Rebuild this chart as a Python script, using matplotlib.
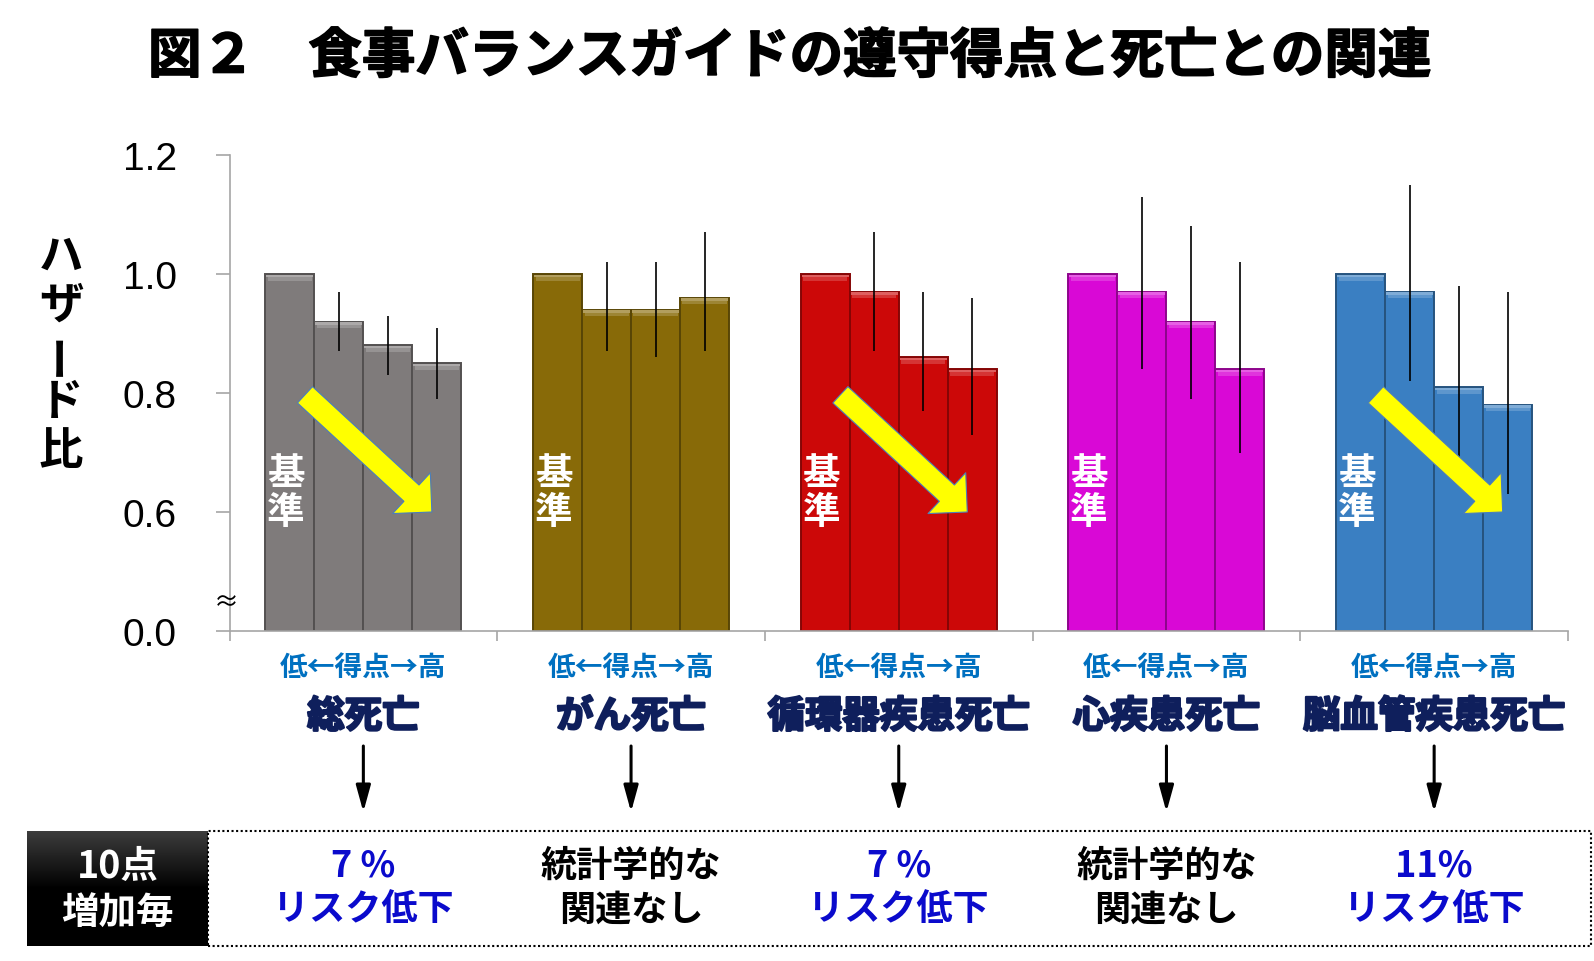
import numpy as np
import matplotlib.pyplot as plt
import matplotlib.patheffects as pe
from matplotlib import transforms
from matplotlib.patches import Rectangle
from matplotlib.colors import to_rgb, LinearSegmentedColormap

plt.rcParams['font.family'] = ['Noto Sans CJK JP', 'DejaVu Sans']

# --- データ ---
title = '図２　食事バランスガイドの遵守得点と死亡との関連'
categories = ['総死亡', 'がん死亡', '循環器疾患死亡', '心疾患死亡', '脳血管疾患死亡']
hazard_ratio = [
    [1.00, 0.92, 0.88, 0.85],
    [1.00, 0.94, 0.94, 0.96],
    [1.00, 0.97, 0.86, 0.84],
    [1.00, 0.97, 0.92, 0.84],
    [1.00, 0.97, 0.81, 0.78],
]
ci_low = [
    [np.nan, 0.87, 0.83, 0.79],
    [np.nan, 0.87, 0.86, 0.87],
    [np.nan, 0.87, 0.77, 0.73],
    [np.nan, 0.84, 0.79, 0.70],
    [np.nan, 0.82, 0.68, 0.63],
]
ci_high = [
    [np.nan, 0.97, 0.93, 0.91],
    [np.nan, 1.02, 1.02, 1.07],
    [np.nan, 1.07, 0.97, 0.96],
    [np.nan, 1.13, 1.08, 1.02],
    [np.nan, 1.15, 0.98, 0.97],
]
bar_colors = ['#7f7b7b', '#886a08', '#cc0808', '#d908d6', '#3a7fc2']
significant = [True, False, True, False, True]
result_line1 = ['7 %', '統計学的な', '7 %', '統計学的な', '11%']
result_line2 = ['リスク低下', '関連なし', 'リスク低下', '関連なし', 'リスク低下']
ytick_values = [0.4, 0.6, 0.8, 1.0, 1.2]   # 0.4 以下は省略（≈）
ytick_labels = ['0.0', '0.6', '0.8', '1.0', '1.2']
ylabel_chars = ['ハ', 'ザ', 'ー', 'ド', '比']

W, H = 1594, 962


def fx(px):
    return px / W


def fy(py):
    return 1 - py / H


def shade(c, f):
    r, g, b = to_rgb(c)
    if f < 1:
        return (r * f, g * f, b * f)
    return tuple(v + (1 - v) * (f - 1) for v in (r, g, b))


fig = plt.figure(figsize=(W / 100, H / 100), dpi=100)
ax = fig.add_axes([fx(229.5), fy(632), fx(1568) - fx(229.5), (632 - 156) / H])

floor = ytick_values[0]
bw = 0.183
offsets = (np.arange(4) - 1.5) * bw

for i, cat in enumerate(categories):
    xs = i + offsets
    hr = np.array(hazard_ratio[i])
    col = bar_colors[i]
    ax.bar(xs, hr - floor, bottom=floor, width=bw, color=col,
           edgecolor=shade(col, 0.65), linewidth=1.4, zorder=2)
    # 上面のハイライト（ベベル風）
    ax.bar(xs, 0.010, bottom=hr - 0.011, width=bw * 0.90, color=shade(col, 1.18),
           linewidth=0, zorder=3)
    ax.bar(xs, 0.004, bottom=hr - 0.005, width=bw * 0.96, color=shade(col, 1.35),
           linewidth=0, zorder=3)
    lo = np.array(ci_low[i])
    hi = np.array(ci_high[i])
    ok = ~np.isnan(lo)
    ax.vlines(xs[ok], lo[ok], hi[ok], color='black', linewidth=1.2, zorder=4)
    ax.text(xs[0] - 0.015, 0.633, '基\n準', color='white', fontsize=27,
            fontweight='bold', ha='center', va='center', linespacing=1.0, zorder=5)
    if significant[i]:
        ax.annotate('', xy=(i + 0.256, 0.600), xytext=(i - 0.218, 0.797),
                    arrowprops=dict(arrowstyle='simple,head_length=0.5,head_width=1.0,tail_width=0.4',
                                    mutation_scale=40, fc='#ffff00', ec='#4a7ebb', lw=0.8,
                                    shrinkA=0, shrinkB=0), zorder=6)

ax.set_xlim(-0.5, len(categories) - 0.5)
ax.set_ylim(ytick_values[0], ytick_values[-1])
ax.set_yticks(ytick_values)
ax.set_yticklabels(ytick_labels)
ax.set_xticks(np.arange(len(categories) + 1) - 0.5)
ax.set_xticklabels([])
for lab in ax.get_yticklabels():
    lab.set_fontfamily('Liberation Sans')
    lab.set_fontsize(28)
ax.tick_params(axis='y', length=10, width=1.2, color='#a6a6a6', pad=28)
ax.tick_params(axis='x', length=7, width=1.2, color='#a6a6a6')
for s in ['top', 'right']:
    ax.spines[s].set_visible(False)
for s in ['left', 'bottom']:
    ax.spines[s].set_color('#a6a6a6')
    ax.spines[s].set_linewidth(1.2)

# 軸の省略記号
fig.text(fx(226), fy(603), '≈', fontsize=18, ha='center', va='center')

# タイトル
fig.text(fx(790), fy(58), title, fontsize=38.5, fontweight='bold', ha='center', va='center',
         path_effects=[pe.withStroke(linewidth=1.2, foreground='black')])

# 縦書きの軸ラベル
for k, ch in enumerate(ylabel_chars):
    fig.text(fx(61), fy(257 + 48.5 * k), ch, fontsize=32, fontweight='bold',
             ha='center', va='center', rotation=90 if ch == 'ー' else 0)

# カテゴリ下のテキスト
navy = '#0f1f5c'
blend = transforms.blended_transform_factory(ax.transData, fig.transFigure)
for i, cat in enumerate(categories):
    ax.text(i, fy(668), '低←得点→高', transform=blend, color='#0070c0', fontsize=20,
            fontweight='bold', ha='center', va='center')
    ax.text(i, fy(717), cat, transform=blend, color=navy, fontsize=27,
            fontweight='bold', ha='center', va='center',
            path_effects=[pe.withStroke(linewidth=1.6, foreground=navy)])
    ax.annotate('', xy=(i, fy(813)), xytext=(i, fy(747)), xycoords=blend, textcoords=blend,
                arrowprops=dict(arrowstyle='-|>,head_length=0.8,head_width=0.22', lw=2.2,
                                color='black', mutation_scale=20, shrinkA=0, shrinkB=0),
                annotation_clip=False)
    tc = '#0a0acc' if significant[i] else 'black'
    ax.text(i, fy(866), result_line1[i], transform=blend, color=tc, fontsize=26,
            fontweight='bold', ha='center', va='center')
    ax.text(i, fy(910), result_line2[i], transform=blend, color=tc, fontsize=26,
            fontweight='bold', ha='center', va='center')

# 下の枠
fig.add_artist(Rectangle((fx(208), fy(947)), fx(1591) - fx(208), (947 - 832) / H,
                         transform=fig.transFigure, fill=False, ec='black',
                         lw=1.5, ls=(0, (1, 1.2))))
box = fig.add_axes([fx(27), fy(947), fx(208) - fx(27), (947 - 832) / H])
grad = np.linspace(0, 1, 100)[:, None]
cmap = LinearSegmentedColormap.from_list('g', ['#3c3c3c', '#000000', '#000000'])
box.imshow(grad, aspect='auto', cmap=cmap, extent=[0, 1, 0, 1])
box.set_axis_off()
box.text(0.5, 0.7, '10点', color='white', fontsize=27, fontweight='bold',
         ha='center', va='center', transform=box.transAxes)
box.text(0.5, 0.3, '増加毎', color='white', fontsize=27, fontweight='bold',
         ha='center', va='center', transform=box.transAxes)

fig.savefig('out.png', dpi=100)
